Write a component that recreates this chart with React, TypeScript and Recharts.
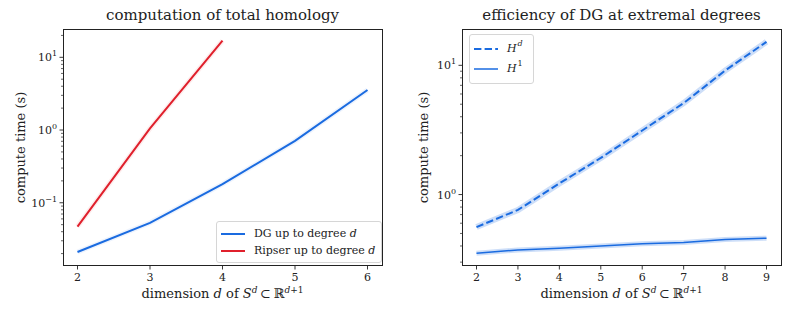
import React from 'react';
import { LineChart, Line, XAxis, YAxis, Legend } from 'recharts';

// left panel: total homology
const leftDims = [2, 3, 4, 5, 6];
const dgTimes = [0.021, 0.053, 0.18, 0.71, 3.55];
const ripserTimes = [0.047, 1.05, 17];

// right panel: extremal degrees
const rightDims = [2, 3, 4, 5, 6, 7, 8, 9];
const hdTimes = [0.56, 0.76, 1.22, 1.92, 3.13, 5.1, 9.1, 15.2];
const h1Times = [0.352, 0.373, 0.384, 0.4, 0.417, 0.425, 0.448, 0.46];

const leftYDomain = [0.0135, 24.5];
const rightYDomain = [0.28, 19.1];
const leftDecades = [0.01, 0.1, 1, 10];
const rightDecades = [0.1, 1, 10];

const BLUE = '#1a6be0';
const RED = '#e0202c';
const INK = '#222';
const FONT = 'DejaVu Serif';

function logTicks(decades: number[], lo: number, hi: number) {
  const out: number[] = [];
  decades.forEach((d) => {
    for (let k = 1; k < 10; k++) {
      const v = +(d * k).toPrecision(6);
      if (v >= lo && v <= hi) out.push(v);
    }
  });
  return out;
}

const leftData = leftDims.map((d, i) => ({ d, dg: dgTimes[i], ripser: ripserTimes[i] }));
const rightData = rightDims.map((d, i) => ({ d, hd: hdTimes[i], h1: h1Times[i] }));

const LogTick = (props: any) => {
  const { x, y, payload } = props;
  const v = payload.value;
  const exp = Math.round(Math.log10(v));
  const major = Math.abs(v - Math.pow(10, exp)) < 1e-6 * v;
  return (
    <g>
      <line x1={x - (major ? 3.5 : 2)} x2={x} y1={y} y2={y} stroke={INK} strokeWidth={major ? 0.9 : 0.7} />
      {major && (
        <text x={x - 6} y={y + 4} textAnchor="end" fontSize={11} fill={INK} fontFamily={FONT}>
          10
          <tspan dy={-5} fontSize={8}>
            {exp < 0 ? '\u2212' + Math.abs(exp) : exp}
          </tspan>
        </text>
      )}
    </g>
  );
};

const XTick = (props: any) => {
  const { x, y, payload } = props;
  return (
    <g>
      <line x1={x} x2={x} y1={y} y2={y + 3.5} stroke={INK} strokeWidth={0.9} />
      <text x={x} y={y + 15} textAnchor="middle" fontSize={11} fill={INK} fontFamily={FONT}>
        {payload.value}
      </text>
    </g>
  );
};

const XLabel = ({ viewBox }: any) => {
  const cx = viewBox.x + viewBox.width / 2;
  return (
    <text x={cx} y={viewBox.y + 32} textAnchor="middle" fontSize={13} fill={INK} fontFamily={FONT}>
      dimension <tspan fontStyle="italic">d</tspan> of <tspan fontStyle="italic">S</tspan>
      <tspan dy={-5} fontSize={9} fontStyle="italic">d</tspan>
      <tspan dy={5}>{'\u2009\u2282\u2009\u211D'}</tspan>
      <tspan dy={-5} fontSize={9}>
        <tspan fontStyle="italic">d</tspan>+1
      </tspan>
    </text>
  );
};

const YLabel = ({ viewBox }: any, lx: number) => {
  const cy = viewBox.y + viewBox.height / 2;
  return (
    <text
      x={lx}
      y={cy}
      transform={`rotate(-90 ${lx} ${cy})`}
      textAnchor="middle"
      dominantBaseline="central"
      fontSize={13}
      fill={INK}
      fontFamily={FONT}
    >
      compute time (s)
    </text>
  );
};

const legendBox: React.CSSProperties = {
  border: '1px solid #d6d6d6',
  borderRadius: 3,
  background: 'rgba(255,255,255,0.85)',
  fontFamily: FONT,
  fontSize: 11,
  color: INK,
  padding: '3px 6px 3px 4px',
  lineHeight: '17px',
};

const sup: React.CSSProperties = { fontSize: 8, position: 'relative', top: -5, marginLeft: 1 };

const LegendRow = ({ color, dash, width, children }: any) => (
  <div style={{ display: 'flex', alignItems: 'center', whiteSpace: 'nowrap' }}>
    <svg width={24} height={10} style={{ marginRight: 9 }}>
      <line x1={0} x2={24} y1={5} y2={5} stroke={color} strokeWidth={width} strokeDasharray={dash} />
    </svg>
    {children}
  </div>
);

const LeftLegend = () => (
  <div style={legendBox}>
    <LegendRow color={BLUE} width={2}>
      DG up to degree&nbsp;<i>d</i>
    </LegendRow>
    <LegendRow color={RED} width={2}>
      Ripser up to degree&nbsp;<i>d</i>
    </LegendRow>
  </div>
);

const RightLegend = () => (
  <div style={{ ...legendBox, padding: '4px 10px 4px 4px', lineHeight: '20px' }}>
    <LegendRow color={BLUE} width={2} dash="7.4 3.2">
      <i>H</i>
      <span style={{ ...sup, fontStyle: 'italic' }}>d</span>
    </LegendRow>
    <LegendRow color={BLUE} width={1.5}>
      <i>H</i>
      <span style={sup}>1</span>
    </LegendRow>
  </div>
);

const titleStyle = (left: number, width: number): React.CSSProperties => ({
  position: 'absolute',
  left,
  width,
  top: 6,
  textAlign: 'center',
  fontFamily: FONT,
  fontSize: 15,
  color: INK,
  lineHeight: '18px',
});

// plot frame drawn on top of each panel
const frame = (left: number, width: number): React.CSSProperties => ({
  position: 'absolute',
  left,
  top: 29,
  width,
  height: 237,
  border: `1px solid ${INK}`,
  boxSizing: 'border-box',
  pointerEvents: 'none',
});

export default function App() {
  const leftYTicks = logTicks(leftDecades, leftYDomain[0], leftYDomain[1]);
  const rightYTicks = logTicks(rightDecades, rightYDomain[0], rightYDomain[1]);
  return (
    <div style={{ position: 'absolute', left: 0, top: 0, width: 793, height: 317, background: '#fff' }}>
      <div style={{ position: 'absolute', left: 0, top: 0 }}>
        <LineChart width={400} height={317} data={leftData} margin={{ top: 29, right: 18, bottom: 0, left: 0 }}>
          <XAxis
            dataKey="d"
            type="number"
            domain={[1.8, 6.2]}
            ticks={leftDims}
            interval={0}
            height={51}
            tickSize={0}
            tickMargin={0}
            tickLine={false}
            tick={<XTick />}
            axisLine={false}
            label={{ content: (p: any) => <XLabel {...p} /> }}
          />
          <YAxis
            type="number"
            scale="log"
            domain={leftYDomain}
            allowDataOverflow
            ticks={leftYTicks}
            interval={0}
            width={63}
            tickSize={0}
            tickMargin={0}
            tickLine={false}
            tick={<LogTick />}
            axisLine={false}
            label={{ content: (p: any) => YLabel(p, 20) }}
          />
          <Line dataKey="dg" stroke={BLUE} strokeOpacity={0.08} strokeWidth={5} dot={false} isAnimationActive={false} legendType="none" />
          <Line dataKey="ripser" stroke={RED} strokeOpacity={0.08} strokeWidth={5} dot={false} isAnimationActive={false} legendType="none" />
          <Line dataKey="dg" name="DG up to degree d" stroke={BLUE} strokeWidth={2} dot={false} isAnimationActive={false} />
          <Line dataKey="ripser" name="Ripser up to degree d" stroke={RED} strokeWidth={2} dot={false} isAnimationActive={false} />
          <Legend
            layout="vertical"
            align="center"
            verticalAlign="middle"
            content={() => <LeftLegend />}
            wrapperStyle={{ left: 216, top: 221, width: 'auto', height: 'auto' }}
          />
        </LineChart>
      </div>
      <div style={frame(63, 320)} />
      <div style={titleStyle(63, 319)}>computation of total homology</div>

      <div style={{ position: 'absolute', left: 400, top: 0 }}>
        <LineChart width={393} height={317} data={rightData} margin={{ top: 29, right: 12, bottom: 0, left: 0 }}>
          <XAxis
            dataKey="d"
            type="number"
            domain={[1.65, 9.35]}
            ticks={rightDims}
            interval={0}
            height={51}
            tickSize={0}
            tickMargin={0}
            tickLine={false}
            tick={<XTick />}
            axisLine={false}
            label={{ content: (p: any) => <XLabel {...p} /> }}
          />
          <YAxis
            type="number"
            scale="log"
            domain={rightYDomain}
            allowDataOverflow
            ticks={rightYTicks}
            interval={0}
            width={62}
            tickSize={0}
            tickMargin={0}
            tickLine={false}
            tick={<LogTick />}
            axisLine={false}
            label={{ content: (p: any) => YLabel(p, 23) }}
          />
          <Line dataKey="hd" stroke={BLUE} strokeOpacity={0.22} strokeWidth={6} dot={false} isAnimationActive={false} legendType="none" />
          <Line dataKey="h1" stroke={BLUE} strokeOpacity={0.22} strokeWidth={5} dot={false} isAnimationActive={false} legendType="none" />
          <Line dataKey="hd" name="H^d" stroke={BLUE} strokeWidth={2} strokeDasharray="7.4 3.2" dot={false} isAnimationActive={false} />
          <Line dataKey="h1" name="H^1" stroke={BLUE} strokeWidth={1.5} dot={false} isAnimationActive={false} />
          <Legend
            layout="vertical"
            align="center"
            verticalAlign="middle"
            content={() => <RightLegend />}
            wrapperStyle={{ left: 69, top: 34, width: 'auto', height: 'auto' }}
          />
        </LineChart>
      </div>
      <div style={frame(462, 320)} />
      <div style={titleStyle(462, 319)}>efficiency of DG at extremal degrees</div>
    </div>
  );
}
